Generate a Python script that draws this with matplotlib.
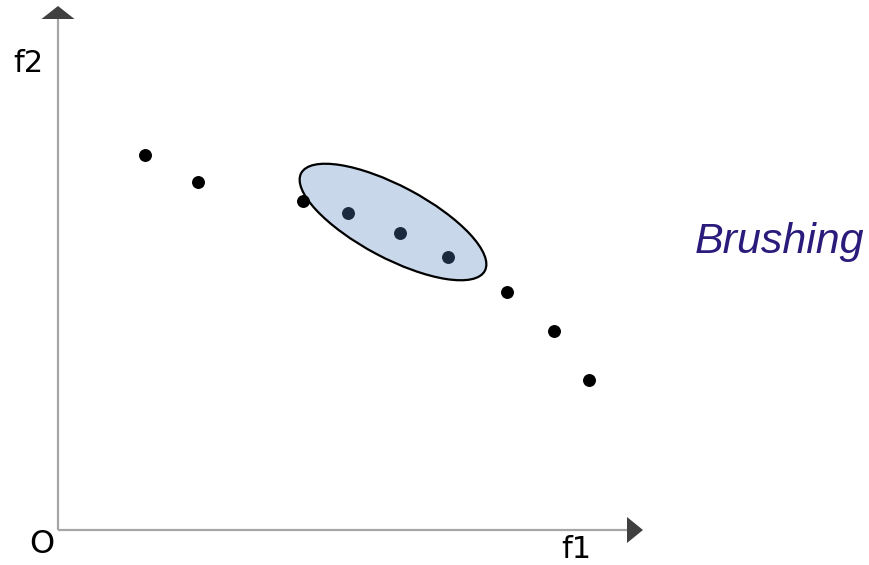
import numpy as np
import matplotlib.pyplot as plt
from matplotlib.patches import Ellipse, Polygon

# f1 / f2 values of the points
f1 = [8.7, 14.0, 24.5, 29.0, 34.2, 39.0, 44.9, 49.6, 53.1]
f2 = [37.5, 34.8, 32.9, 31.7, 29.7, 27.3, 23.8, 19.9, 15.0]
brushed = [False, False, False, True, True, True, False, False, False]

axis_grey = '#a6a6a6'
head_grey = '#404040'

fig = plt.figure(figsize=(8.7, 5.65), dpi=100)
ax = fig.add_axes([0, 0, 1, 1])
ax.set_xlim(-5.8, 81.2)
ax.set_ylim(-3.5, 53.0)
ax.axis('off')

# axes with arrow heads
ax.plot([0, 0], [0, 51.1], color=axis_grey, lw=1.6, solid_capstyle='butt')
ax.plot([0, 56.9], [0, 0], color=axis_grey, lw=1.6, solid_capstyle='butt')
ax.add_patch(Polygon([[-1.65, 51.1], [1.65, 51.1], [0, 52.4]], closed=True,
                     color=head_grey, lw=0))
ax.add_patch(Polygon([[56.9, -1.3], [56.9, 1.3], [58.5, 0]], closed=True,
                     color=head_grey, lw=0))

# brushing region
ax.add_patch(Ellipse((33.5, 30.8), 20.8, 7.2, angle=-28,
                     facecolor='#c8d7ea', edgecolor='black', lw=1.6, zorder=2))

f1 = np.array(f1)
f2 = np.array(f2)
sel = np.array(brushed)
ax.plot(f1[~sel], f2[~sel], 'o', color='black', ms=8.3, zorder=3)
ax.plot(f1[sel], f2[sel], 'o', color='#1b2a3e', ms=8.3, zorder=3)

ax.text(-4.5, 46.6, 'f2', fontsize=22, family='DejaVu Sans', ha='left', va='center')
ax.text(-1.65, -1.45, 'O', fontsize=23, family='DejaVu Sans', ha='center', va='center')
ax.text(51.8, -1.9, 'f1', fontsize=22, family='DejaVu Sans', ha='center', va='center')
ax.text(63.7, 27.7, 'Brushing', fontsize=31, family='Liberation Sans',
        style='italic', color='#2b1b7b', ha='left', va='baseline')

fig.savefig('out.png', dpi=100)
